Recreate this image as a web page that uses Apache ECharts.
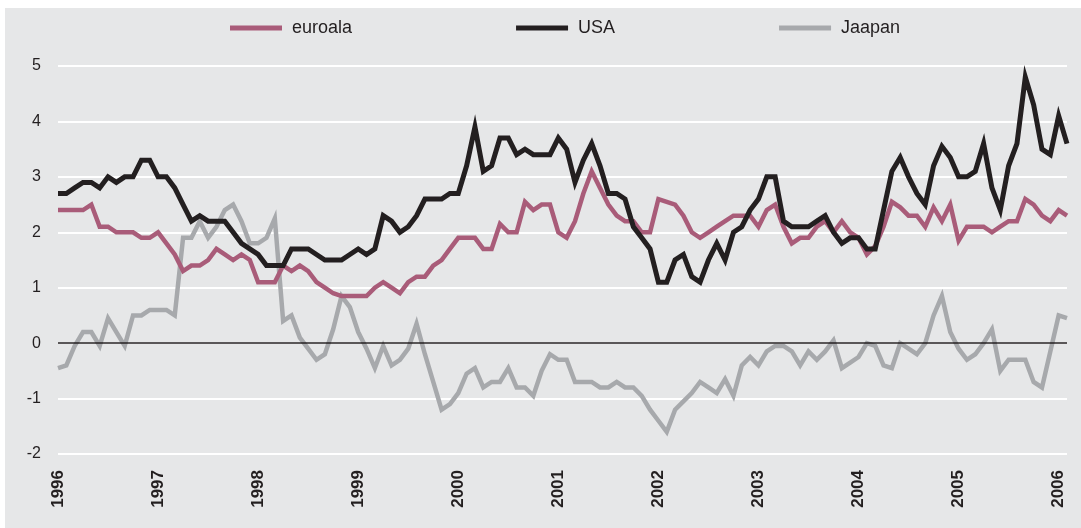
<!DOCTYPE html>
<html>
<head>
<meta charset="utf-8">
<script src="https://cdn.jsdelivr.net/npm/echarts@6/dist/echarts.min.js"></script>
<style>
html, body { margin: 0; padding: 0; background: #fff; }
#chart { width: 1081px; height: 528px; }
</style>
</head>
<body>
<div id="chart"></div>
<script>
// Monthly categories Jan 1996 .. Feb 2006
const months = [];
for (let y = 1996; y <= 2006; y++) {
  for (let m = 1; m <= 12; m++) {
    if (y === 2006 && m > 2) break;
    months.push(y + '-' + String(m).padStart(2, '0'));
  }
}
const seriesNames = ['euroala', 'USA', 'Jaapan'];
const yTicks = { min: -2, max: 5, step: 1 };

const euroala = [
  2.4, 2.4, 2.4, 2.4, 2.5, 2.1, 2.1, 2.0, 2.0, 2.0, 1.9, 1.9,
  2.0, 1.8, 1.6, 1.3, 1.4, 1.4, 1.5, 1.7, 1.6, 1.5, 1.6, 1.5,
  1.1, 1.1, 1.1, 1.4, 1.3, 1.4, 1.3, 1.1, 1.0, 0.9, 0.85, 0.85,
  0.85, 0.85, 1.0, 1.1, 1.0, 0.9, 1.1, 1.2, 1.2, 1.4, 1.5, 1.7,
  1.9, 1.9, 1.9, 1.7, 1.7, 2.15, 2.0, 2.0, 2.55, 2.4, 2.5, 2.5,
  2.0, 1.9, 2.2, 2.7, 3.1, 2.8, 2.5, 2.3, 2.2, 2.2, 2.0, 2.0,
  2.6, 2.55, 2.5, 2.3, 2.0, 1.9, 2.0, 2.1, 2.2, 2.3, 2.3, 2.3,
  2.1, 2.4, 2.5, 2.1, 1.8, 1.9, 1.9, 2.1, 2.2, 2.0, 2.2, 2.0,
  1.9, 1.6, 1.75, 2.1, 2.55, 2.45, 2.3, 2.3, 2.1, 2.45, 2.2, 2.5,
  1.85, 2.1, 2.1, 2.1, 2.0, 2.1, 2.2, 2.2, 2.6, 2.5, 2.3, 2.2,
  2.4, 2.3
];
const usa = [
  2.7, 2.7, 2.8, 2.9, 2.9, 2.8, 3.0, 2.9, 3.0, 3.0, 3.3, 3.3,
  3.0, 3.0, 2.8, 2.5, 2.2, 2.3, 2.2, 2.2, 2.2, 2.0, 1.8, 1.7,
  1.6, 1.4, 1.4, 1.4, 1.7, 1.7, 1.7, 1.6, 1.5, 1.5, 1.5, 1.6,
  1.7, 1.6, 1.7, 2.3, 2.2, 2.0, 2.1, 2.3, 2.6, 2.6, 2.6, 2.7,
  2.7, 3.2, 3.9, 3.1, 3.2, 3.7, 3.7, 3.4, 3.5, 3.4, 3.4, 3.4,
  3.7, 3.5, 2.9, 3.3, 3.6, 3.2, 2.7, 2.7, 2.6, 2.1, 1.9, 1.7,
  1.1, 1.1, 1.5, 1.6, 1.2, 1.1, 1.5, 1.8, 1.5, 2.0, 2.1, 2.4,
  2.6, 3.0, 3.0, 2.2, 2.1, 2.1, 2.1, 2.2, 2.3, 2.0, 1.8, 1.9,
  1.9, 1.7, 1.7, 2.4, 3.1, 3.35, 3.0, 2.7, 2.5, 3.2, 3.55, 3.35,
  3.0, 3.0, 3.1, 3.6, 2.8, 2.4, 3.2, 3.6, 4.8, 4.3, 3.5, 3.4,
  4.1, 3.6
];
const jaapan = [
  -0.45, -0.4, -0.05, 0.2, 0.2, -0.05, 0.45, 0.2, -0.05, 0.5, 0.5, 0.6,
  0.6, 0.6, 0.5, 1.9, 1.9, 2.2, 1.9, 2.1, 2.4, 2.5, 2.2, 1.8,
  1.8, 1.9, 2.25, 0.4, 0.5, 0.1, -0.1, -0.3, -0.2, 0.25, 0.85, 0.65,
  0.2, -0.1, -0.45, -0.05, -0.4, -0.3, -0.1, 0.35, -0.2, -0.7, -1.2, -1.1,
  -0.9, -0.55, -0.45, -0.8, -0.7, -0.7, -0.45, -0.8, -0.8, -0.95, -0.5, -0.2,
  -0.3, -0.3, -0.7, -0.7, -0.7, -0.8, -0.8, -0.7, -0.8, -0.8, -0.95, -1.2,
  -1.4, -1.6, -1.2, -1.05, -0.9, -0.7, -0.8, -0.9, -0.65, -0.95, -0.4, -0.25,
  -0.4, -0.15, -0.05, -0.05, -0.15, -0.4, -0.15, -0.3, -0.15, 0.05, -0.45, -0.35,
  -0.25, 0.0, -0.05, -0.4, -0.45, 0.0, -0.1, -0.2, 0.0, 0.5, 0.85, 0.2,
  -0.1, -0.3, -0.2, 0.0, 0.25, -0.5, -0.3, -0.3, -0.3, -0.7, -0.8, -0.15,
  0.5, 0.45
];

const FONT = '"Liberation Sans", Arial, Helvetica, sans-serif';
const chart = echarts.init(document.getElementById('chart'), null, { renderer: 'canvas' });
chart.setOption({
  animation: false,
  backgroundColor: '#e6e7e8',
  graphic: [
    { type: 'rect', left: 0, top: 0, shape: { width: 1081, height: 8 }, style: { fill: '#ffffff' }, silent: true },
    { type: 'rect', left: 0, top: 0, shape: { width: 5, height: 528 }, style: { fill: '#ffffff' }, silent: true }
  ],
  legend: {
    data: seriesNames,
    left: 230,
    top: 19,
    padding: 0,
    icon: 'rect',
    itemWidth: 52,
    itemHeight: 5,
    itemGap: 164,
    textStyle: { fontFamily: FONT, fontSize: 18, color: '#231f20', padding: [0, 0, 0, 5] }
  },
  grid: { left: 58, right: 14, top: 66, bottom: 74, containLabel: false },
  xAxis: {
    type: 'category',
    data: months,
    boundaryGap: false,
    axisLine: { show: false, onZero: false },
    axisTick: { show: false },
    splitLine: { show: false },
    axisLabel: {
      interval: function (idx) { return idx % 12 === 0; },
      formatter: function (v) { return v.slice(0, 4); },
      rotate: 90,
      margin: 16,
      fontFamily: FONT,
      fontSize: 17,
      fontWeight: 'bold',
      color: '#231f20'
    }
  },
  yAxis: {
    type: 'value',
    min: yTicks.min,
    max: yTicks.max,
    interval: yTicks.step,
    axisLine: { show: false },
    axisTick: { show: false },
    axisLabel: { fontFamily: FONT, fontSize: 16, color: '#231f20', margin: 17 },
    splitLine: { lineStyle: { color: '#ffffff', width: 2 } }
  },
  series: [
    {
      name: 'Jaapan', type: 'line', data: jaapan, symbol: 'none', z: 2,
      itemStyle: { color: '#a7a9ac' },
      lineStyle: { color: '#a7a9ac', width: 4.5, join: 'miter' },
      markLine: {
        silent: true, symbol: 'none', label: { show: false },
        lineStyle: { color: '#231f20', width: 1.5, type: 'solid' },
        data: [{ yAxis: 0 }]
      }
    },
    {
      name: 'euroala', type: 'line', data: euroala, symbol: 'none', z: 3,
      itemStyle: { color: '#a95c79' },
      lineStyle: { color: '#a95c79', width: 4.5, join: 'miter' }
    },
    {
      name: 'USA', type: 'line', data: usa, symbol: 'none', z: 4,
      itemStyle: { color: '#231f20' },
      lineStyle: { color: '#231f20', width: 5, join: 'miter' }
    }
  ]
});
</script>
</body>
</html>
